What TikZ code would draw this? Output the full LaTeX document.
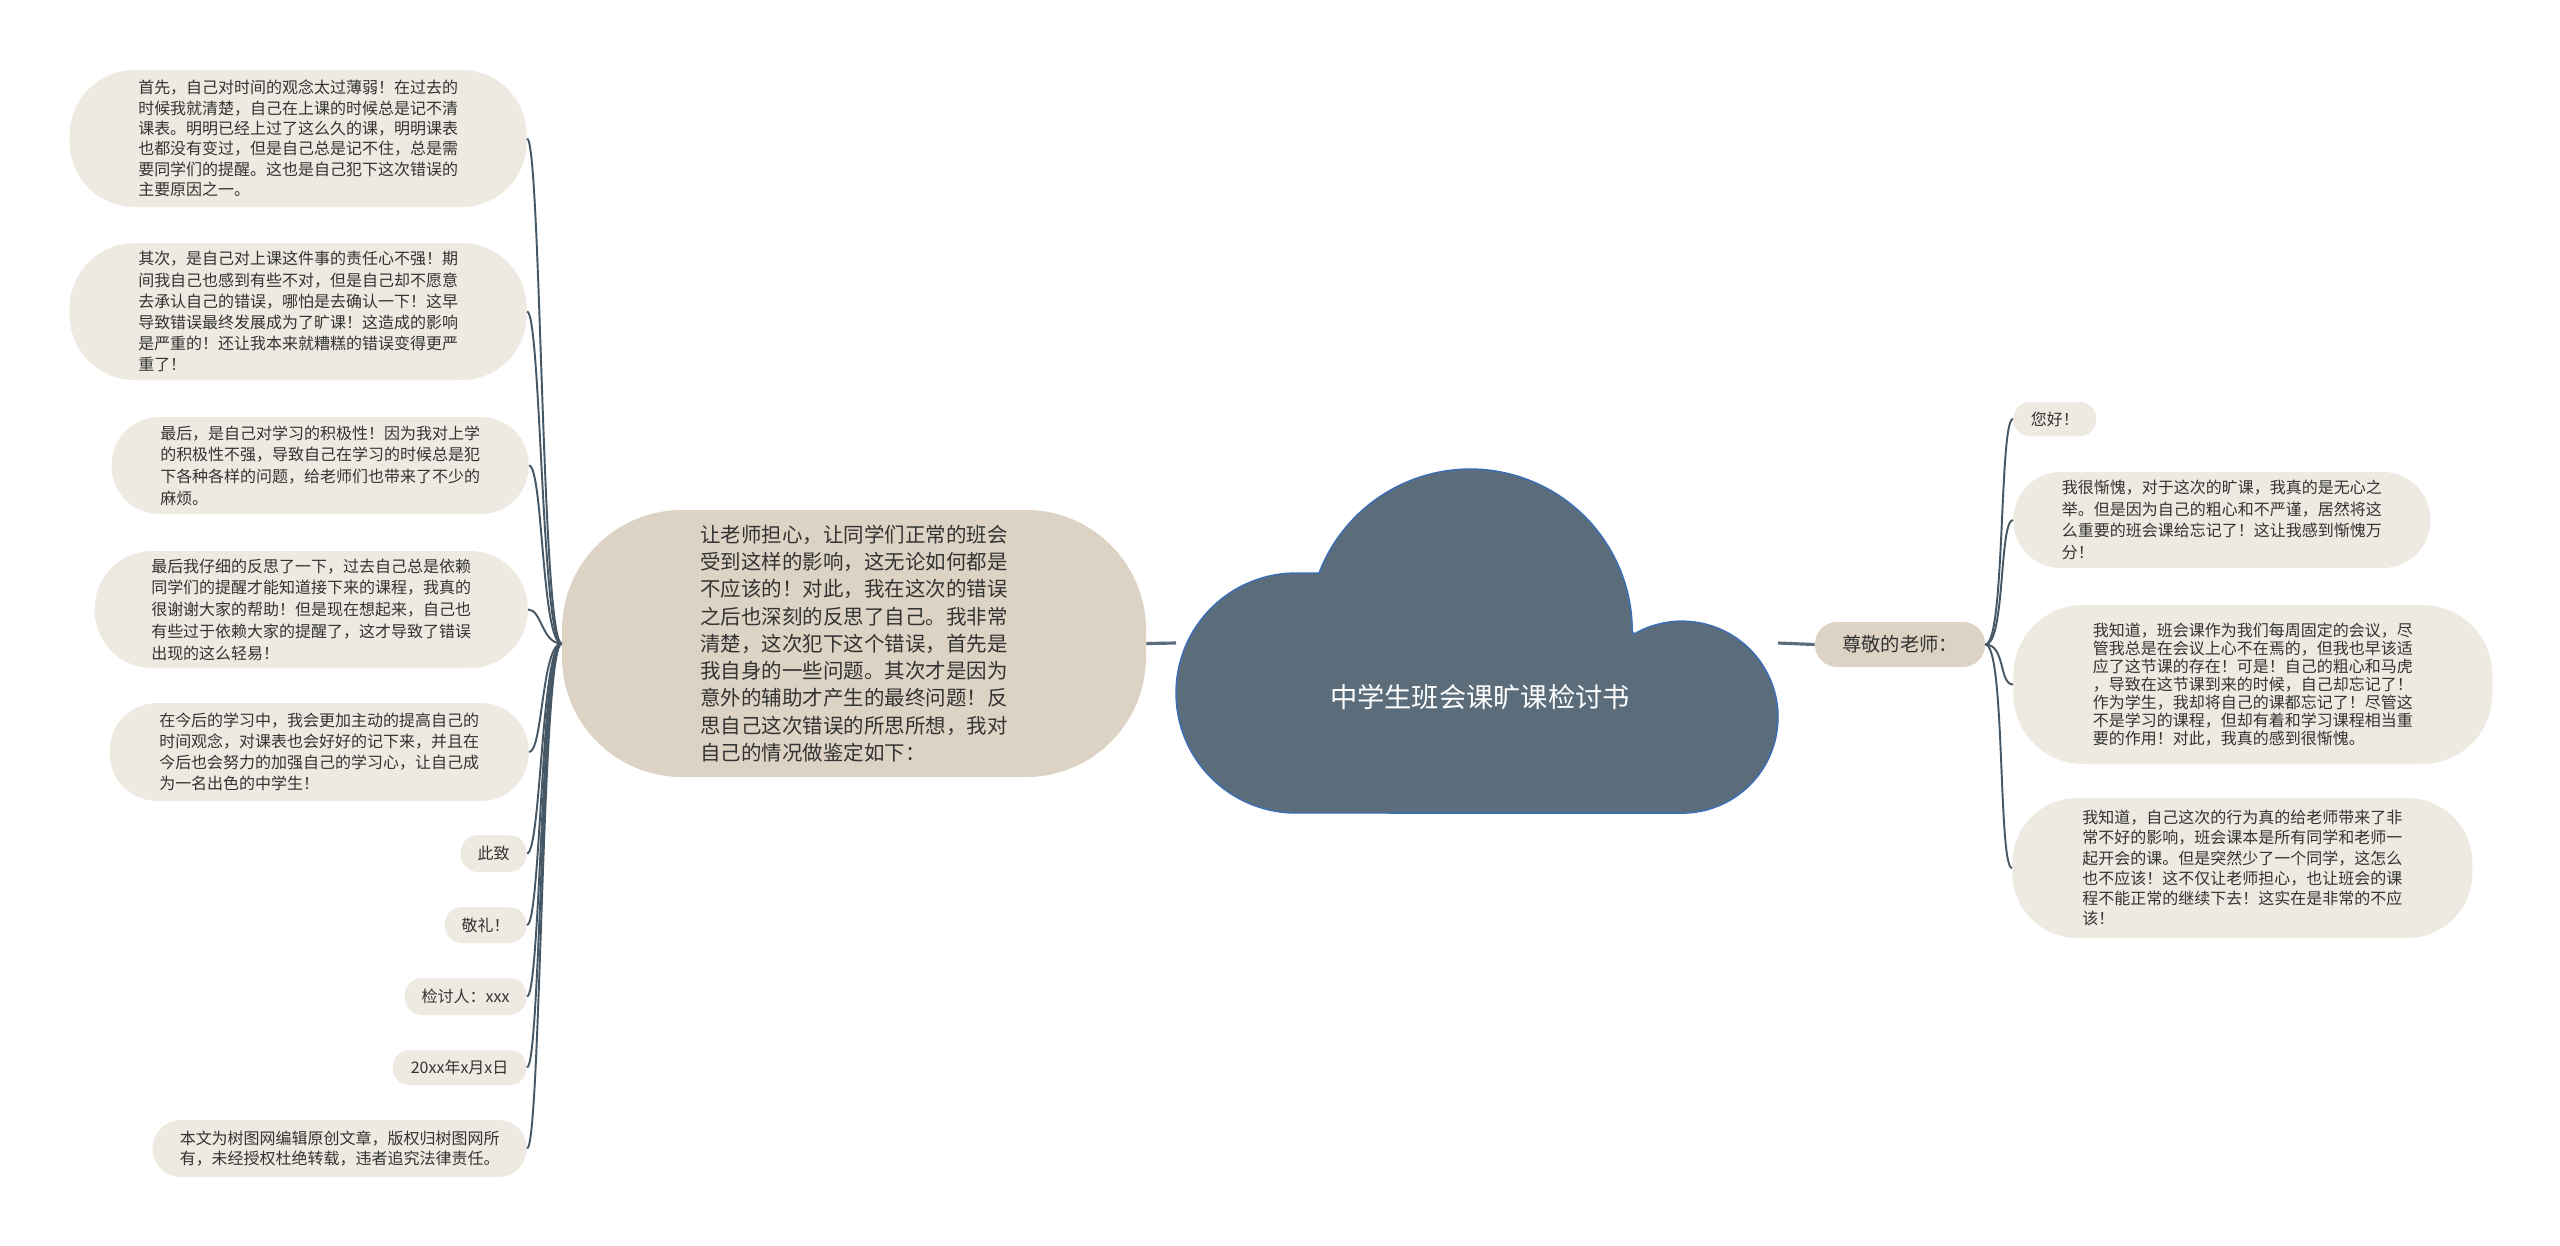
\documentclass[tikz,border=0pt]{standalone}
\usepackage{fontspec}
\setmainfont{Noto Sans CJK SC}

\definecolor{leaffill}{HTML}{EEEAE2}
\definecolor{mainfill}{HTML}{DDD3C4}
\definecolor{cloudfill}{HTML}{5B6D7B}
\definecolor{cloudline}{HTML}{3A6DB5}
\definecolor{branchcol}{HTML}{465866}
\definecolor{textcol}{HTML}{333333}

\def\pxu{0.02cm}

\begin{document}
\begin{tikzpicture}[x=\pxu, y=-\pxu]
        \tikzstyle{bubble}=[fill=leaffill, text=textcol, inner sep=0pt, align=left, font=\fontsize{9.1}{11.6}\selectfont]
        \tikzstyle{left bubble}=[bubble, anchor=east]
        \tikzstyle{right bubble}=[bubble, anchor=west]
        \tikzstyle{topic}=[fill=mainfill, text=textcol, inner sep=0pt, align=left]
        \tikzstyle{branch}=[draw=branchcol, line width=1.1pt]
        \tikzstyle{trunk}=[draw=cloudfill, line width=1.8pt]
        \fill[white] (0,0) rectangle (2560,1245);
        \useasboundingbox (0,0) rectangle (2560,1245);
        % cloud
        \filldraw[fill=cloudfill, draw=cloudline, line width=0.8pt]
            (1296,813) arc[start angle=90, end angle=270, radius=120]
            -- (1319,573) arc[start angle=201, end angle=360, radius=162]
            -- (1634,634) arc[start angle=240, end angle=450, radius=96]
            -- cycle;
        \node[text=white, font=\fontsize{15.5}{18}\selectfont] (root) at (1480,697) {中学生班会课旷课检讨书};
        \coordinate (root-W) at (1176,643);
        \coordinate (root-E) at (1778,643);
        % left side
        \node[topic, minimum width=584*\pxu, minimum height=267*\pxu, rounded corners=2.4cm,
              font=\fontsize{11.65}{15.5}\selectfont] (main) at (854,643.5)
            {让老师担心，让同学们正常的班会\\受到这样的影响，这无论如何都是\\不应该的！对此，我在这次的错误\\之后也深刻的反思了自己。我非常\\清楚，这次犯下这个错误，首先是\\我自身的一些问题。其次才是因为\\意外的辅助才产生的最终问题！反\\思自己这次错误的所思所想，我对\\自己的情况做鉴定如下：};
        \node[left bubble, minimum width=457*\pxu, minimum height=137*\pxu, rounded corners=1.3cm] (L-1) at (527,138.5)
            {首先，自己对时间的观念太过薄弱！在过去的\\时候我就清楚，自己在上课的时候总是记不清\\课表。明明已经上过了这么久的课，明明课表\\也都没有变过，但是自己总是记不住，总是需\\要同学们的提醒。这也是自己犯下这次错误的\\主要原因之一。};
        \node[left bubble, minimum width=457*\pxu, minimum height=137*\pxu, rounded corners=1.3cm,
              font=\fontsize{9.1}{12}\selectfont] (L-2) at (527,311.5)
            {其次，是自己对上课这件事的责任心不强！期\\间我自己也感到有些不对，但是自己却不愿意\\去承认自己的错误，哪怕是去确认一下！这早\\导致错误最终发展成为了旷课！这造成的影响\\是严重的！还让我本来就糟糕的错误变得更严\\重了！};
        \node[left bubble, minimum width=417*\pxu, minimum height=97*\pxu, rounded corners=0.95cm,
              font=\fontsize{9.1}{12.3}\selectfont] (L-3) at (529,465.5)
            {最后，是自己对学习的积极性！因为我对上学\\的积极性不强，导致自己在学习的时候总是犯\\下各种各样的问题，给老师们也带来了不少的\\麻烦。};
        \node[left bubble, minimum width=433*\pxu, minimum height=117*\pxu, rounded corners=1.15cm,
              font=\fontsize{9.1}{12.4}\selectfont] (L-4) at (528,609.5)
            {最后我仔细的反思了一下，过去自己总是依赖\\同学们的提醒才能知道接下来的课程，我真的\\很谢谢大家的帮助！但是现在想起来，自己也\\有些过于依赖大家的提醒了，这才导致了错误\\出现的这么轻易！};
        \node[left bubble, minimum width=419*\pxu, minimum height=98*\pxu, rounded corners=0.95cm,
              font=\fontsize{9.1}{12}\selectfont] (L-5) at (529,752)
            {在今后的学习中，我会更加主动的提高自己的\\时间观念，对课表也会好好的记下来，并且在\\今后也会努力的加强自己的学习心，让自己成\\为一名出色的中学生！};
        \node[left bubble, minimum width=66*\pxu, minimum height=37*\pxu, rounded corners=0.35cm] (L-6) at (527,853.5) {此致};
        \node[left bubble, minimum width=82*\pxu, minimum height=36*\pxu, rounded corners=0.35cm] (L-7) at (527,925) {敬礼！};
        \node[left bubble, minimum width=122*\pxu, minimum height=37*\pxu, rounded corners=0.35cm] (L-8) at (527,996.5) {检讨人：xxx};
        \node[left bubble, minimum width=134*\pxu, minimum height=35*\pxu, rounded corners=0.34cm] (L-9) at (527,1067.5) {20xx年x月x日};
        \node[left bubble, minimum width=374*\pxu, minimum height=57*\pxu, rounded corners=0.56cm] (L-10) at (527,1148.5)
            {本文为树图网编辑原创文章，版权归树图网所\\有，未经授权杜绝转载，违者追究法律责任。};
        % right side
        \node[topic, minimum width=170*\pxu, minimum height=45*\pxu, rounded corners=0.44cm,
              font=\fontsize{11}{13}\selectfont] (teacher) at (1900,644.5) {尊敬的老师：};
        \node[right bubble, minimum width=83*\pxu, minimum height=34*\pxu, rounded corners=0.33cm] (R-1) at (2013,419) {您好！};
        \node[right bubble, minimum width=417*\pxu, minimum height=96*\pxu, rounded corners=0.95cm,
              font=\fontsize{9.1}{12.3}\selectfont] (R-2) at (2013,520)
            {我很惭愧，对于这次的旷课，我真的是无心之\\举。但是因为自己的粗心和不严谨，居然将这\\么重要的班会课给忘记了！这让我感到惭愧万\\分！};
        \node[right bubble, minimum width=479*\pxu, minimum height=159*\pxu, rounded corners=1.4cm,
              font=\fontsize{9.1}{10.2}\selectfont] (R-3) at (2013,684.5)
            {我知道，班会课作为我们每周固定的会议，尽\\管我总是在会议上心不在焉的，但我也早该适\\应了这节课的存在！可是！自己的粗心和马虎\\，导致在这节课到来的时候，自己却忘记了！\\作为学生，我却将自己的课都忘记了！尽管这\\不是学习的课程，但却有着和学习课程相当重\\要的作用！对此，我真的感到很惭愧。};
        \node[right bubble, minimum width=460*\pxu, minimum height=140*\pxu, rounded corners=1.3cm,
              font=\fontsize{9.1}{11.5}\selectfont] (R-4) at (2012,868)
            {我知道，自己这次的行为真的给老师带来了非\\常不好的影响，班会课本是所有同学和老师一\\起开会的课。但是突然少了一个同学，这怎么\\也不应该！这不仅让老师担心，也让班会的课\\程不能正常的继续下去！这实在是非常的不应\\该！};
        % connectors
        \draw[trunk] (main.east) -- (root-W);
        \draw[trunk] (root-E) -- (teacher.west);
        \foreach \name in {1,...,10}
            \draw[branch] (main.west) .. controls +(-20,0) and +(14,0) .. (L-\name.east);
        \foreach \name in {1,...,4}
            \draw[branch] (teacher.east) .. controls +(20,0) and +(-14,0) .. (R-\name.west);
\end{tikzpicture}
\end{document}
